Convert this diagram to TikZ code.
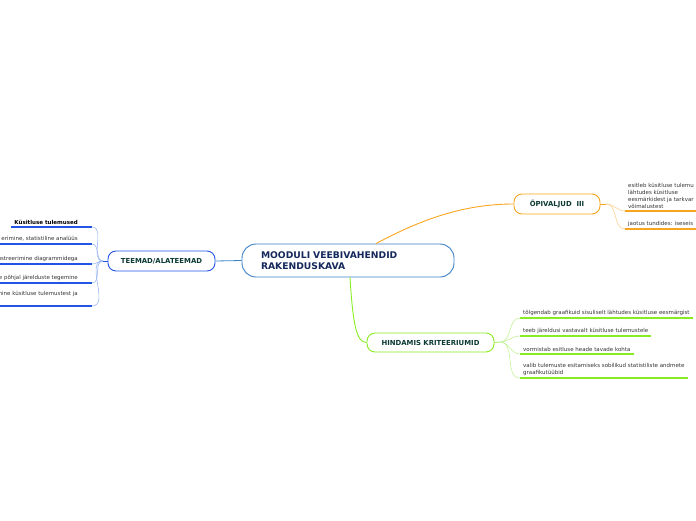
\documentclass[tikz,border=0pt]{standalone}
\usepackage{fontspec}
\setmainfont{DejaVu Sans}
\usetikzlibrary{positioning,calc}
\definecolor{mainblue}{HTML}{3B82C8}
\definecolor{topicblue}{HTML}{2255E6}
\definecolor{lightblue}{HTML}{9CB8F2}
\definecolor{orangeln}{HTML}{F7A51F}
\definecolor{lightorange}{HTML}{FBD293}
\definecolor{greenln}{HTML}{88EC22}
\definecolor{lightgreen}{HTML}{C4F39A}
\definecolor{navytext}{HTML}{15285C}
\definecolor{tealtext}{HTML}{0C3A33}
\definecolor{itemgray}{HTML}{333333}
\tikzset{
  central/.style={rectangle,draw=mainblue,fill=white,rounded corners=14pt,line width=0.9pt,
    minimum height=33pt,text width=174pt,inner xsep=19pt,align=left,
    font=\fontsize{9.2}{11.5}\selectfont\bfseries,text=navytext},
  topic/.style={rectangle,fill=white,rounded corners=8pt,line width=0.9pt,
    align=center,font=\fontsize{6.9}{8}\selectfont\bfseries,text=tealtext},
  item/.style={inner xsep=3pt,inner ysep=2.5pt,align=left,
    font=\fontsize{5.5}{7}\selectfont,text=itemgray},
  uline/.style={line width=1.3pt},
  twig/.style={line width=0.6pt},
}
\begin{document}
\begin{tikzpicture}[x=1pt,y=-1pt]
  \clip (0,0) rectangle (696,520);
  % central topic
  \node[central,minimum width=212pt] (cm) at (348,260.5) {MOODULI VEEBIVAHENDID\\RAKENDUSKAVA};
  % main topics
  \node[topic,draw=topicblue,minimum width=107pt,minimum height=20pt] (tm) at (161.5,261) {TEEMAD/ALATEEMAD};
  \node[topic,draw=orangeln,minimum width=86pt,minimum height=20pt] (op) at (557,204) {ÕPIVALJUD~~III};
  \node[topic,draw=greenln,minimum width=127pt,minimum height=19pt] (hk) at (430.5,342.5) {HINDAMIS KRITEERIUMID};
  % links from central topic
  \coordinate (cmtop) at ($(cm.north)+(28,0)$);
  \coordinate (cmbot) at ($(cm.south)+(2,0)$);
  \draw[mainblue,line width=0.8pt] (cm.west) -- (tm.east);
  \draw[orangeln,line width=0.9pt] (cmtop) .. controls +(45,-24) and +(-50,0) .. (op.west);
  \draw[greenln,line width=0.9pt] (cmbot) .. controls +(3,48) and +(-10,0) .. (hk.west);
  % hubs
  \coordinate (tmhub) at (103,261);
  \coordinate (ophub) at (606,204);
  \coordinate (hkhub) at (500,342);
  \draw[topicblue,twig] (tm.west) -- (tmhub);
  \draw[orangeln,twig] (op.east) -- (ophub);
  \draw[greenln,twig] (hk.east) -- (hkhub);
  % left branches
  \node[item,anchor=south east,font=\fontsize{5.5}{7}\selectfont\bfseries,text=black] (l1) at (81,227) {Küsitluse tulemused};
  \node[item,anchor=south east] (l2) at (81,244) {erimine, statistiline analüüs};
  \node[item,anchor=south east] (l3) at (81,264) {ustreerimine diagrammidega};
  \node[item,anchor=south east] (l4) at (81,283) {e põhjal järelduste tegemine};
  \node[item,anchor=south east,inner ysep=9pt] (l5) at (81,306) {mine küsitluse tulemustest ja};
  \foreach \i/\y in {1/227,2/244,3/264,4/283,5/306}{
    \coordinate (l\i e) at (92,\y);
    \draw[topicblue,uline] (l\i.south west) -- (l\i e);
    \draw[lightblue,twig] (tmhub) to[out=180,in=0] (l\i e);
  }
  % right branches, learning outcomes
  \node[item,anchor=south west] (r1) at (625,211) {esitleb küsitluse tulemu\\lähtudes küsitluse\\eesmärkidest ja tarkvar\\võimalustest};
  \node[item,anchor=south west] (r2) at (625,229) {jaotus tundides: iseseis};
  \foreach \i/\y in {1/211,2/229}{
    \coordinate (r\i s) at (625,\y);
    \draw[orangeln,uline] (r\i s) -- ++(80,0);
    \draw[lightorange,twig] (ophub) to[out=0,in=180] (r\i s);
  }
  % right branches, assessment criteria
  \node[item,anchor=south west] (g1) at (520,318) {tõlgendab graafikuid sisuliselt lähtudes küsitluse eesmärgist};
  \node[item,anchor=south west] (g2) at (520,336) {teeb järeldusi vastavalt küsitluse tulemustele};
  \node[item,anchor=south west] (g3) at (520,354) {vormistab esitluse heade tavade kohta};
  \node[item,anchor=south west] (g4) at (520,378) {valib tulemuste esitamiseks sobilikud statistiliste andmete\\graafikutüübid};
  \foreach \i in {1,...,4}{
    \draw[greenln,uline] (g\i.south west) -- (g\i.south east);
    \draw[lightgreen,twig] (hkhub) to[out=0,in=180] (g\i.south west);
  }
\end{tikzpicture}
\end{document}
